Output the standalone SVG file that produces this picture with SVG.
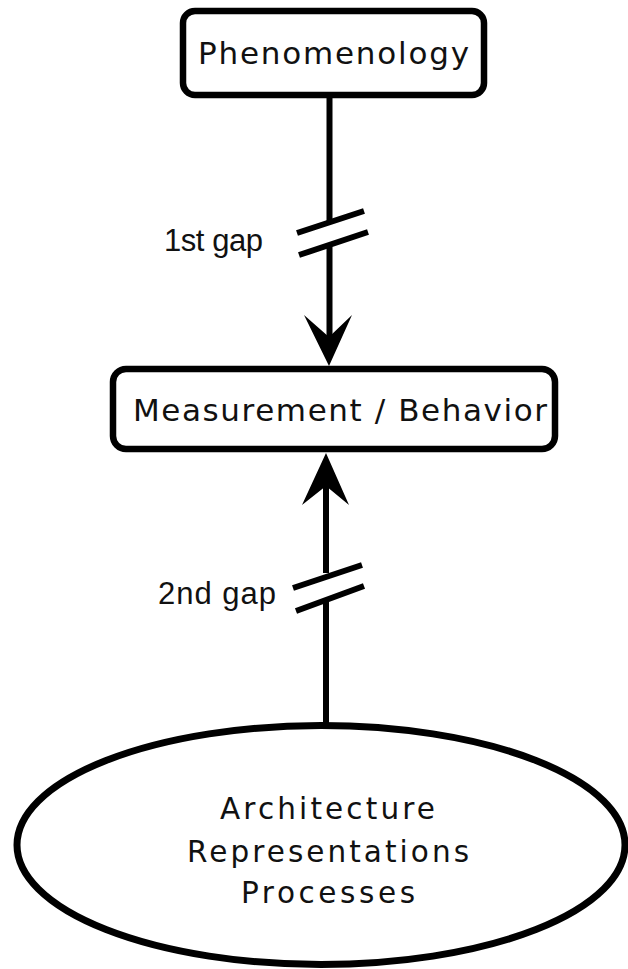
<svg xmlns="http://www.w3.org/2000/svg" width="628" height="969" viewBox="0 0 628 969">
<style>
.box{fill:#fff;stroke:#000;stroke-width:6.5}
.lbl{font-family:"Liberation Sans",Arial,sans-serif;fill:#111}
.nt{font-family:"DejaVu Sans","Liberation Sans",sans-serif;fill:#111}
.ln{stroke:#000;stroke-width:6;fill:none}
.ah{fill:#000;stroke:none}
</style>
<rect width="628" height="969" fill="#fff"/>
<g id="connectors">
<path class="ln" d="M329.5 98 V222 M329.5 247 V342"/>
<path class="ln" d="M297 233 L364 211 M299 255 L368 232"/>
<polygon class="ah" points="329,366 304,315 329,337 352,315"/>
<path class="ln" d="M326 482 V573 M326 602 V724"/>
<path class="ln" d="M293 588 L362 565 M296 611 L364 586"/>
<polygon class="ah" points="326,453 302,505 326,486 349,505"/>
<text class="lbl" x="164" y="251" font-size="31" textLength="99" lengthAdjust="spacing">1st gap</text>
<text class="lbl" x="158" y="604" font-size="31" textLength="118" lengthAdjust="spacing">2nd gap</text>
</g>
<g id="phenomenology">
<rect class="box" x="183" y="11" width="301" height="84" rx="12"/>
<text class="nt" x="198" y="64" font-size="31" textLength="271" lengthAdjust="spacing">Phenomenology</text>
</g>
<g id="measurement">
<rect class="box" x="113" y="369" width="442" height="80" rx="13"/>
<text class="nt" x="133" y="421" font-size="31" textLength="414" lengthAdjust="spacing">Measurement / Behavior</text>
</g>
<g id="architecture">
<ellipse class="box" cx="321" cy="845" rx="304" ry="119.5" style="stroke-width:7"/>
<text class="nt" x="220" y="819" font-size="29.5" textLength="215" lengthAdjust="spacing">Architecture</text>
<text class="nt" x="187" y="862" font-size="29.5" textLength="282" lengthAdjust="spacing">Representations</text>
<text class="nt" x="241" y="903" font-size="29.5" textLength="174" lengthAdjust="spacing">Processes</text>
</g>
</svg>
